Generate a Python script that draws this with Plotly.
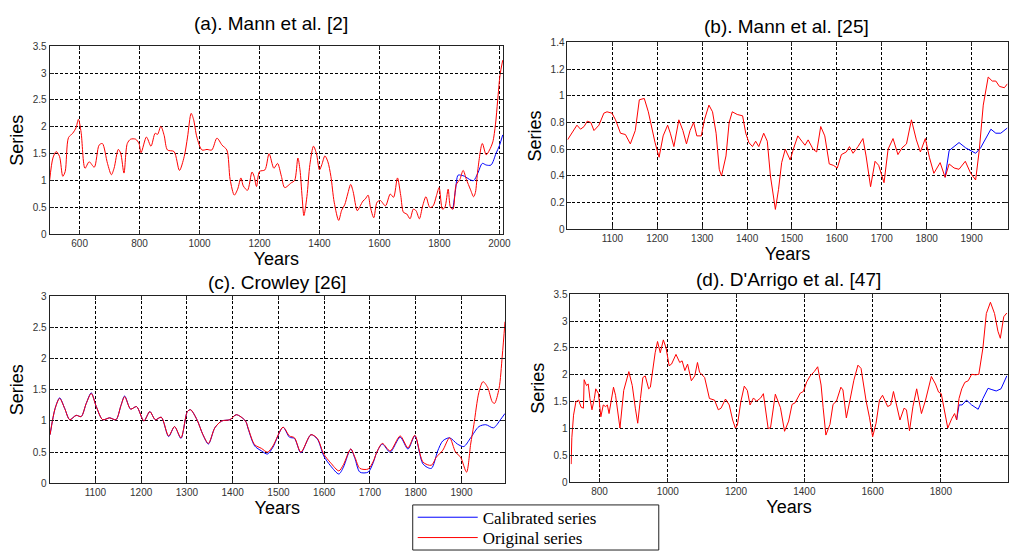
import plotly.graph_objects as go

# ---------------- data ----------------
# (a) Mann et al. [2]
years_a = [500, 511, 522, 533, 544, 552, 563, 577, 588, 596, 605, 618, 632, 649, 665, 676, 693, 706, 715, 729,
           737, 748, 759, 770, 787, 798, 805, 823, 838, 852, 860, 871, 882, 893, 915, 933, 949, 960, 972, 980,
           991, 1008, 1025, 1041, 1058, 1075, 1091, 1102, 1116, 1127, 1138, 1146, 1160, 1175, 1182, 1190, 1200,
           1218, 1232, 1248, 1260, 1273, 1284, 1306, 1317, 1328, 1335, 1342, 1348, 1358, 1368, 1380, 1390, 1400,
           1408, 1418, 1428, 1438, 1449, 1464, 1474, 1484, 1494, 1504, 1512, 1526, 1535, 1545, 1553, 1562, 1570,
           1581, 1592, 1603, 1620, 1636, 1647, 1660, 1671, 1680, 1691, 1702, 1713, 1722, 1733, 1744, 1755, 1768,
           1779, 1790, 1799, 1810, 1818, 1829, 1837, 1845, 1856, 1868, 1879, 1890, 1903, 1914, 1920, 1928, 1943,
           1956, 1967, 1978, 1987, 1994, 2002, 2011]
orig_a = [1.0, 1.42, 1.54, 1.45, 1.08, 1.17, 1.8, 1.88, 1.98, 2.14, 1.9, 1.23, 1.35, 1.25, 1.66, 1.69, 1.32, 1.11,
          1.23, 1.58, 1.51, 1.14, 1.69, 1.77, 1.77, 1.69, 1.52, 1.81, 1.64, 1.88, 1.86, 2.01, 1.84, 1.57, 1.54,
          1.19, 1.45, 1.81, 2.25, 2.14, 1.81, 1.57, 1.58, 1.57, 1.79, 1.66, 1.57, 1.02, 0.73, 0.84, 1.05, 0.9,
          0.82, 1.16, 1.08, 0.89, 1.17, 1.2, 1.5, 1.23, 1.32, 1.08, 0.87, 0.96, 1.0, 1.42, 1.2, 0.7, 0.35, 0.7,
          1.3, 1.64, 1.5, 1.2, 1.3, 1.46, 1.35, 1.08, 0.6, 0.26, 0.45, 0.55, 0.75, 0.93, 0.8, 0.44, 0.52, 0.62,
          0.66, 0.73, 0.5, 0.31, 0.6, 0.63, 0.53, 0.75, 0.69, 1.05, 0.72, 0.41, 0.38, 0.29, 0.47, 0.44, 0.29,
          0.53, 0.7, 0.5, 0.53, 0.72, 0.87, 0.47, 0.5, 0.84, 0.5, 0.47, 0.93, 1.02, 1.19, 1.02, 0.84, 0.7, 0.78,
          1.2, 1.69, 1.48, 1.57, 1.72, 2.05, 2.48, 2.96, 3.24]
cal_years_a = [1845, 1854, 1862, 1873, 1884, 1901, 1914, 1928, 1943, 1956, 1972, 1989, 2000, 2011]
cal_a = [0.47, 0.84, 1.1, 1.1, 1.08, 1.02, 1.0, 1.14, 1.32, 1.29, 1.29, 1.51, 1.65, 1.85]

# (b) Mann et al. [25]
years_b = [1000, 1015, 1021, 1029, 1037, 1044, 1052, 1059, 1070, 1081, 1088, 1099, 1107, 1118, 1129, 1140, 1151,
           1160, 1171, 1180, 1187, 1195, 1204, 1213, 1223, 1229, 1237, 1243, 1248, 1257, 1265, 1273, 1281, 1288,
           1298, 1305, 1315, 1323, 1331, 1338, 1343, 1353, 1360, 1367, 1378, 1390, 1397, 1404, 1412, 1419, 1426,
           1437, 1445, 1452, 1463, 1470, 1477, 1485, 1496, 1503, 1513, 1522, 1529, 1536, 1547, 1555, 1564, 1573,
           1583, 1592, 1601, 1610, 1621, 1628, 1636, 1647, 1658, 1665, 1675, 1685, 1693, 1705, 1714, 1725, 1736,
           1745, 1755, 1766, 1777, 1786, 1797, 1806, 1816, 1830, 1841, 1850, 1861, 1872, 1886, 1898, 1909, 1917,
           1926, 1937, 1946, 1954, 1962, 1973, 1980]
orig_b = [0.67, 0.75, 0.78, 0.75, 0.77, 0.81, 0.8, 0.74, 0.78, 0.87, 0.88, 0.87, 0.82, 0.72, 0.71, 0.64, 0.74,
          0.97, 0.98, 0.88, 0.77, 0.65, 0.54, 0.7, 0.78, 0.72, 0.62, 0.74, 0.82, 0.74, 0.64, 0.74, 0.8, 0.7, 0.7,
          0.82, 0.93, 0.88, 0.72, 0.45, 0.4, 0.55, 0.8, 0.88, 0.86, 0.85, 0.72, 0.65, 0.62, 0.66, 0.62, 0.72,
          0.66, 0.4, 0.15, 0.3, 0.5, 0.6, 0.52, 0.6, 0.7, 0.66, 0.63, 0.67, 0.6, 0.58, 0.77, 0.7, 0.49, 0.48,
          0.46, 0.56, 0.58, 0.62, 0.57, 0.62, 0.68, 0.55, 0.32, 0.51, 0.48, 0.35, 0.6, 0.68, 0.56, 0.61, 0.64,
          0.82, 0.67, 0.58, 0.68, 0.54, 0.42, 0.5, 0.39, 0.49, 0.46, 0.45, 0.51, 0.42, 0.37, 0.59, 0.93, 1.14,
          1.11, 1.11, 1.07, 1.06, 1.09]
cal_years_b = [1841, 1850, 1861, 1872, 1887, 1898, 1909, 1920, 1931, 1943, 1954, 1965, 1980]
cal_b = [0.39, 0.59, 0.62, 0.65, 0.61, 0.59, 0.57, 0.61, 0.68, 0.75, 0.72, 0.72, 0.76]

# (c) Crowley [26]
years_c = [1001, 1012, 1022, 1033, 1044, 1058, 1069, 1080, 1091, 1102, 1116, 1131, 1145, 1156, 1164, 1177, 1190,
           1206, 1219, 1231, 1244, 1260, 1273, 1287, 1301, 1308, 1322, 1335, 1347, 1361, 1376, 1394, 1408, 1428,
           1434, 1448, 1463, 1476, 1488, 1510, 1524, 1535, 1549, 1571, 1585, 1599, 1614, 1632, 1642, 1658, 1667,
           1678, 1696, 1707, 1715, 1727, 1744, 1766, 1783, 1798, 1816, 1834, 1845, 1859, 1874, 1887, 1898, 1911,
           1920, 1927, 1938, 1947, 1957, 1967, 1972, 1982, 1989, 1995]
orig_c = [0.78, 1.2, 1.36, 1.2, 1.02, 1.09, 1.07, 1.28, 1.44, 1.23, 1.02, 1.05, 1.02, 1.25, 1.39, 1.19, 1.23,
          1.0, 1.15, 1.02, 1.06, 0.76, 0.91, 0.73, 1.15, 1.18, 1.02, 0.78, 0.64, 0.89, 1.0, 1.02, 1.1, 1.0, 0.88,
          0.62, 0.56, 0.5, 0.6, 0.9, 0.76, 0.73, 0.5, 0.78, 0.72, 0.47, 0.33, 0.2, 0.3, 0.55, 0.42, 0.24, 0.23,
          0.35, 0.5, 0.64, 0.52, 0.76, 0.57, 0.77, 0.34, 0.29, 0.42, 0.53, 0.73, 0.5, 0.42, 0.18, 0.63, 0.94,
          1.46, 1.63, 1.54, 1.31, 1.28, 1.52, 2.04, 2.59]
cal_years_c = [1001, 1012, 1022, 1033, 1044, 1058, 1069, 1080, 1091, 1102, 1116, 1131, 1145, 1156, 1164, 1177,
               1190, 1206, 1219, 1231, 1244, 1260, 1273, 1287, 1301, 1308, 1322, 1335, 1347, 1361, 1376, 1394,
               1408, 1428, 1434, 1448, 1463, 1476, 1488, 1510, 1524, 1535, 1549, 1571, 1585, 1599, 1614, 1632,
               1642, 1658, 1667, 1678, 1696, 1707, 1715, 1727, 1744, 1766, 1783, 1798, 1816, 1834, 1848, 1859,
               1874, 1891, 1905, 1920, 1938, 1953, 1970, 1985, 1995]
cal_c = [0.78, 1.2, 1.37, 1.2, 1.02, 1.09, 1.07, 1.28, 1.45, 1.23, 1.02, 1.05, 1.02, 1.25, 1.4, 1.19, 1.23, 1.0,
         1.15, 1.02, 1.06, 0.75, 0.91, 0.72, 1.15, 1.18, 1.02, 0.78, 0.63, 0.89, 1.0, 1.02, 1.1, 1.0, 0.87, 0.6,
         0.52, 0.47, 0.58, 0.9, 0.74, 0.72, 0.49, 0.78, 0.71, 0.44, 0.28, 0.15, 0.26, 0.55, 0.4, 0.18, 0.18, 0.33,
         0.5, 0.63, 0.5, 0.74, 0.55, 0.76, 0.31, 0.24, 0.52, 0.68, 0.73, 0.63, 0.59, 0.73, 0.91, 0.94, 0.89, 1.02,
         1.12]

# (d) D'Arrigo et al. [47]
years_d = [717, 719, 724, 731, 739, 746, 753, 755, 762, 767, 772, 778, 785, 789, 797, 804, 811, 818, 823, 828, 841,
           847, 860, 871, 886, 896, 905, 912, 920, 927, 934, 944, 949, 955, 963, 970, 978, 987, 995, 1004, 1011,
           1024, 1035, 1042, 1050, 1058, 1069, 1079, 1087, 1093, 1108, 1122, 1137, 1148, 1156, 1169, 1180, 1190,
           1198, 1204, 1214, 1224, 1233, 1241, 1251, 1260, 1272, 1280, 1286, 1294, 1301, 1315, 1330, 1342, 1354,
           1364, 1373, 1388, 1397, 1407, 1417, 1429, 1439, 1449, 1455, 1463, 1475, 1484, 1494, 1507, 1513, 1523,
           1533, 1545, 1557, 1566, 1581, 1591, 1600, 1610, 1620, 1629, 1644, 1653, 1661, 1670, 1680, 1692, 1699,
           1708, 1718, 1729, 1743, 1755, 1772, 1784, 1793, 1801, 1808, 1820, 1832, 1840, 1846, 1853, 1861, 1870,
           1880, 1890, 1901, 1911, 1923, 1933, 1945, 1957, 1967, 1974, 1984, 1993]
orig_d = [0.34, 0.83, 1.25, 1.5, 1.53, 1.4, 1.38, 1.91, 1.8, 1.83, 1.56, 1.35, 1.56, 1.74, 1.65, 1.22, 1.44, 1.41,
          1.44, 1.28, 1.77, 1.62, 1.01, 1.71, 2.06, 1.8, 1.38, 1.1, 1.56, 1.95, 1.98, 1.74, 1.77, 2.05, 2.41,
          2.62, 2.41, 2.65, 2.5, 2.17, 2.2, 2.38, 2.23, 2.26, 2.08, 2.2, 1.89, 1.98, 2.23, 2.05, 1.95, 1.56, 1.53,
          1.35, 1.38, 1.55, 1.44, 1.16, 1.01, 1.07, 1.5, 1.79, 1.71, 1.44, 1.57, 1.51, 1.57, 1.65, 1.4, 1.0,
          1.02, 1.64, 1.39, 0.95, 1.14, 1.45, 1.48, 1.66, 1.69, 1.87, 1.98, 2.06, 2.15, 1.81, 1.39, 0.88, 1.08,
          1.45, 1.51, 1.77, 1.72, 1.2, 1.51, 1.9, 2.18, 2.12, 1.51, 1.2, 0.85, 1.1, 1.53, 1.62, 1.41, 1.44, 1.69,
          1.44, 1.16, 1.38, 1.35, 0.96, 1.41, 1.74, 1.28, 1.53, 1.97, 1.83, 1.68, 1.65, 1.41, 1.01, 1.19, 1.28,
          1.16, 1.56, 1.74, 1.86, 1.89, 2.01, 2.0, 2.01, 2.5, 3.14, 3.35, 3.14, 2.81, 2.68, 3.08, 3.15]
cal_years_d = [1846, 1853, 1862, 1875, 1890, 1909, 1923, 1938, 1947, 1962, 1976, 1993]
cal_d = [1.16, 1.44, 1.44, 1.53, 1.44, 1.36, 1.56, 1.75, 1.73, 1.7, 1.74, 1.98]

# tick labels
xticks_a = [600, 800, 1000, 1200, 1400, 1600, 1800, 2000]
yticks_a = [0, 0.5, 1, 1.5, 2, 2.5, 3, 3.5]
yticktext_a = ["0", "0.5", "1", "1.5", "2", "2.5", "3", "3.5"]
xticks_b = [1100, 1200, 1300, 1400, 1500, 1600, 1700, 1800, 1900]
yticks_b = [0, 0.2, 0.4, 0.6, 0.8, 1, 1.2, 1.4]
yticktext_b = ["0", "0.2", "0.4", "0.6", "0.8", "1", "1.2", "1.4"]
xticks_c = [1100, 1200, 1300, 1400, 1500, 1600, 1700, 1800, 1900]
yticks_c = [0, 0.5, 1, 1.5, 2, 2.5, 3]
yticktext_c = ["0", "0.5", "1", "1.5", "2", "2.5", "3"]
xticks_d = [800, 1000, 1200, 1400, 1600, 1800]
yticks_d = [0, 0.5, 1, 1.5, 2, 2.5, 3, 3.5]
yticktext_d = ["0", "0.5", "1", "1.5", "2", "2.5", "3", "3.5"]

titles = ["(a). Mann et al. [2]", "(b). Mann et al. [25]", "(c). Crowley [26]", "(d). D'Arrigo et al. [47]"]
legend_names = ["Calibrated series", "Original series"]

# ---------------- figure ----------------
W, H = 1016, 556
BLUE = "#0000ff"
RED = "#ff0000"

fig = go.Figure()

panels = [
    # axis suffix, cal x, cal y, orig x, orig y, shape, xrange, yrange, xticks, yticks, yticktext, px box
    ("", cal_years_a, cal_a, years_a, orig_a, "spline", [500, 2012], [0, 3.5], xticks_a, yticks_a, yticktext_a,
     (50, 507, 41, 233)),
    ("2", cal_years_b, cal_b, years_b, orig_b, "linear", [1000, 1980], [0, 1.4], xticks_b, yticks_b, yticktext_b,
     (572, 1015.5, 37, 228)),
    ("3", cal_years_c, cal_c, years_c, orig_c, "spline", [1000, 1995], [0, 3], xticks_c, yticks_c, yticktext_c,
     (50, 509, 296, 487)),
    ("4", cal_years_d, cal_d, years_d, orig_d, "linear", [715, 1995], [0, 3.5], xticks_d, yticks_d, yticktext_d,
     (575, 1015.5, 294, 486)),
]

tick_font = dict(family="Liberation Sans, Arial, sans-serif", size=10, color="#333333")
label_font = dict(family="Liberation Sans, Arial, sans-serif", size=18, color="#000000")

for i, (sfx, cx, cy, ox, oy, shape, xr, yr, xt, yt, ytt, box) in enumerate(panels):
    xa = "x" + sfx
    ya = "y" + sfx
    fig.add_trace(go.Scatter(x=cx, y=cy, mode="lines", xaxis=xa, yaxis=ya,
                             line=dict(color=BLUE, width=1, shape=shape, smoothing=0.8),
                             name=legend_names[0], showlegend=(i == 0), legend="legend"))
    fig.add_trace(go.Scatter(x=ox, y=oy, mode="lines", xaxis=xa, yaxis=ya,
                             line=dict(color=RED, width=1, shape=shape, smoothing=0.8),
                             name=legend_names[1], showlegend=(i == 0), legend="legend2"))
    x0, x1, y0, y1 = box
    common = dict(showline=True, mirror="ticks", linecolor="#222222", linewidth=1,
                  ticks="inside", ticklen=4, tickcolor="#222222",
                  showgrid=True, gridcolor="#000000", gridwidth=1, griddash="3px,2px",
                  zeroline=False, tickfont=tick_font)
    fig.layout["xaxis" + sfx] = dict(domain=[x0 / W, x1 / W], range=xr, anchor=ya,
                                     tickvals=xt, ticktext=[str(v) for v in xt],
                                     title=dict(text="Years", font=label_font, standoff=2), **common)
    fig.layout["yaxis" + sfx] = dict(domain=[1 - y1 / H, 1 - y0 / H], range=yr, anchor=xa,
                                     tickvals=yt, ticktext=ytt,
                                     title=dict(text="Series", font=label_font, standoff=4), **common)

title_pos = [(273, 18), (793, 21), (279, 282), (795, 279)]
for t, (tx, ty) in zip(titles, title_pos):
    fig.add_annotation(text=t, xref="paper", yref="paper", x=tx / W, y=1 - ty / H,
                       xanchor="center", yanchor="middle", showarrow=False,
                       font=dict(family="Liberation Sans, Arial, sans-serif", size=19, color="#000000"))

# legend box
fig.add_shape(type="rect", xref="paper", yref="paper", x0=416 / W, x1=664 / W, y0=1 - 555 / H, y1=1 - 509 / H,
              line=dict(color="#222222", width=1), fillcolor="rgba(0,0,0,0)")

legend_common = dict(bgcolor="rgba(0,0,0,0)", borderwidth=0, xanchor="left", yanchor="middle",
                     font=dict(family="Liberation Serif, Times New Roman, serif", size=17, color="#000000"),
                     itemwidth=60)

fig.update_layout(
    width=W, height=H, autosize=False,
    margin=dict(l=0, r=0, t=0, b=0),
    paper_bgcolor="white", plot_bgcolor="white",
    showlegend=True,
    legend=dict(x=416 / W, y=1 - 522 / H, **legend_common),
    legend2=dict(x=416 / W, y=1 - 543 / H, **legend_common),
)

fig.write_html("out.html", config={"displayModeBar": False},
               post_script="document.body.style.margin='0';document.body.style.overflow='hidden';")
